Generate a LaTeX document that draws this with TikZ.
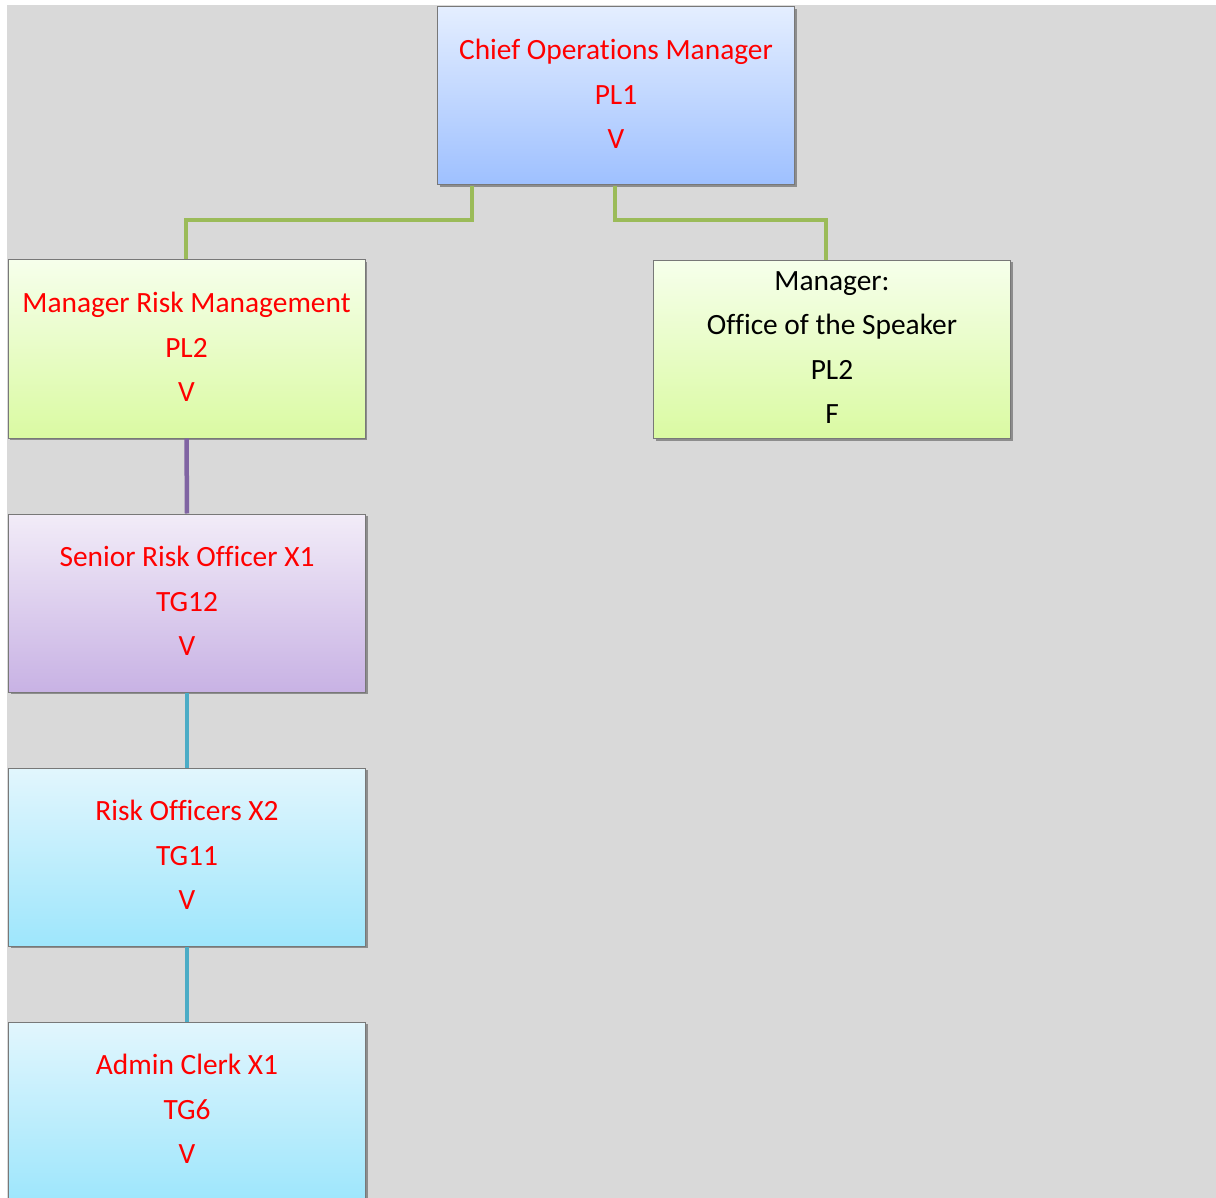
\documentclass[tikz,border=0pt]{standalone}
\usepackage{fontspec}
\setmainfont[Ligatures=NoCommon]{Carlito}
\usetikzlibrary{shadows}
\definecolor{bg}{RGB}{217,217,217}
\definecolor{lnGreen}{RGB}{155,187,89}
\definecolor{lnPurple}{RGB}{128,100,162}
\definecolor{lnTeal}{RGB}{75,172,198}
\definecolor{blueTop}{RGB}{228,238,255}
\definecolor{blueBot}{RGB}{158,192,255}
\definecolor{greenTop}{RGB}{246,255,235}
\definecolor{greenBot}{RGB}{218,250,162}
\definecolor{purpTop}{RGB}{242,236,248}
\definecolor{purpBot}{RGB}{200,178,228}
\definecolor{cyanTop}{RGB}{226,246,253}
\definecolor{cyanBot}{RGB}{158,230,252}
\definecolor{boxline}{RGB}{120,120,120}
\begin{document}
\begin{tikzpicture}[x=1pt,y=-1pt,
  orgbox/.style={draw=boxline, line width=1pt, minimum width=357pt, minimum height=178pt,
    inner sep=0pt, align=center, text=red, text depth=4pt,
    font=\fontsize{29.4}{44.5}\selectfont,
    drop shadow={shadow xshift=2pt, shadow yshift=-2pt, opacity=0.35, fill=black}},
  bluebox/.style={orgbox, top color=blueTop, bottom color=blueBot},
  greenbox/.style={orgbox, top color=greenTop, bottom color=greenBot},
  purpbox/.style={orgbox, top color=purpTop, bottom color=purpBot},
  cyanbox/.style={orgbox, top color=cyanTop, bottom color=cyanBot},
  conn/.style={line width=4.5pt},
]
\useasboundingbox (0,0) rectangle (1216,1198);
\fill[white] (0,0) rectangle (1216,1198);
\fill[bg] (7,5) rectangle (1216,1198);

\coordinate (g1a) at (472,186);
\coordinate (g1b) at (472,220);
\coordinate (g1c) at (186,220);
\coordinate (g2a) at (615,186);
\coordinate (g2b) at (615,220);
\coordinate (g2c) at (826,220);

\node[bluebox] (com) at (616,96) {Chief Operations Manager\\PL1\\V};
\node[greenbox] (mrm) at (186.5,349) {Manager Risk Management\\PL2\\V};
\node[greenbox, text=black] (spk) at (832,349.5) {Manager:\\Office of the Speaker\\PL2\\F};
\node[purpbox] (sro) at (187,603) {Senior Risk Officer X1\\TG12\\V};
\node[cyanbox] (ro) at (187,857) {Risk Officers X2\\TG11\\V};
\node[cyanbox] (ac) at (187,1111) {Admin Clerk X1\\TG6\\V};

\draw[conn, lnGreen] (g1a) -- (g1b) -- (g1c) -- (g1c |- mrm.north);
\draw[conn, lnGreen] (g2a) -- (g2b) -- (g2c) -- (g2c |- spk.north);
\draw[conn, lnPurple] (mrm.south) -- (sro.north);
\draw[conn, lnTeal] (sro.south) -- (ro.north);
\draw[conn, lnTeal] (ro.south) -- (ac.north);
\end{tikzpicture}
\end{document}
